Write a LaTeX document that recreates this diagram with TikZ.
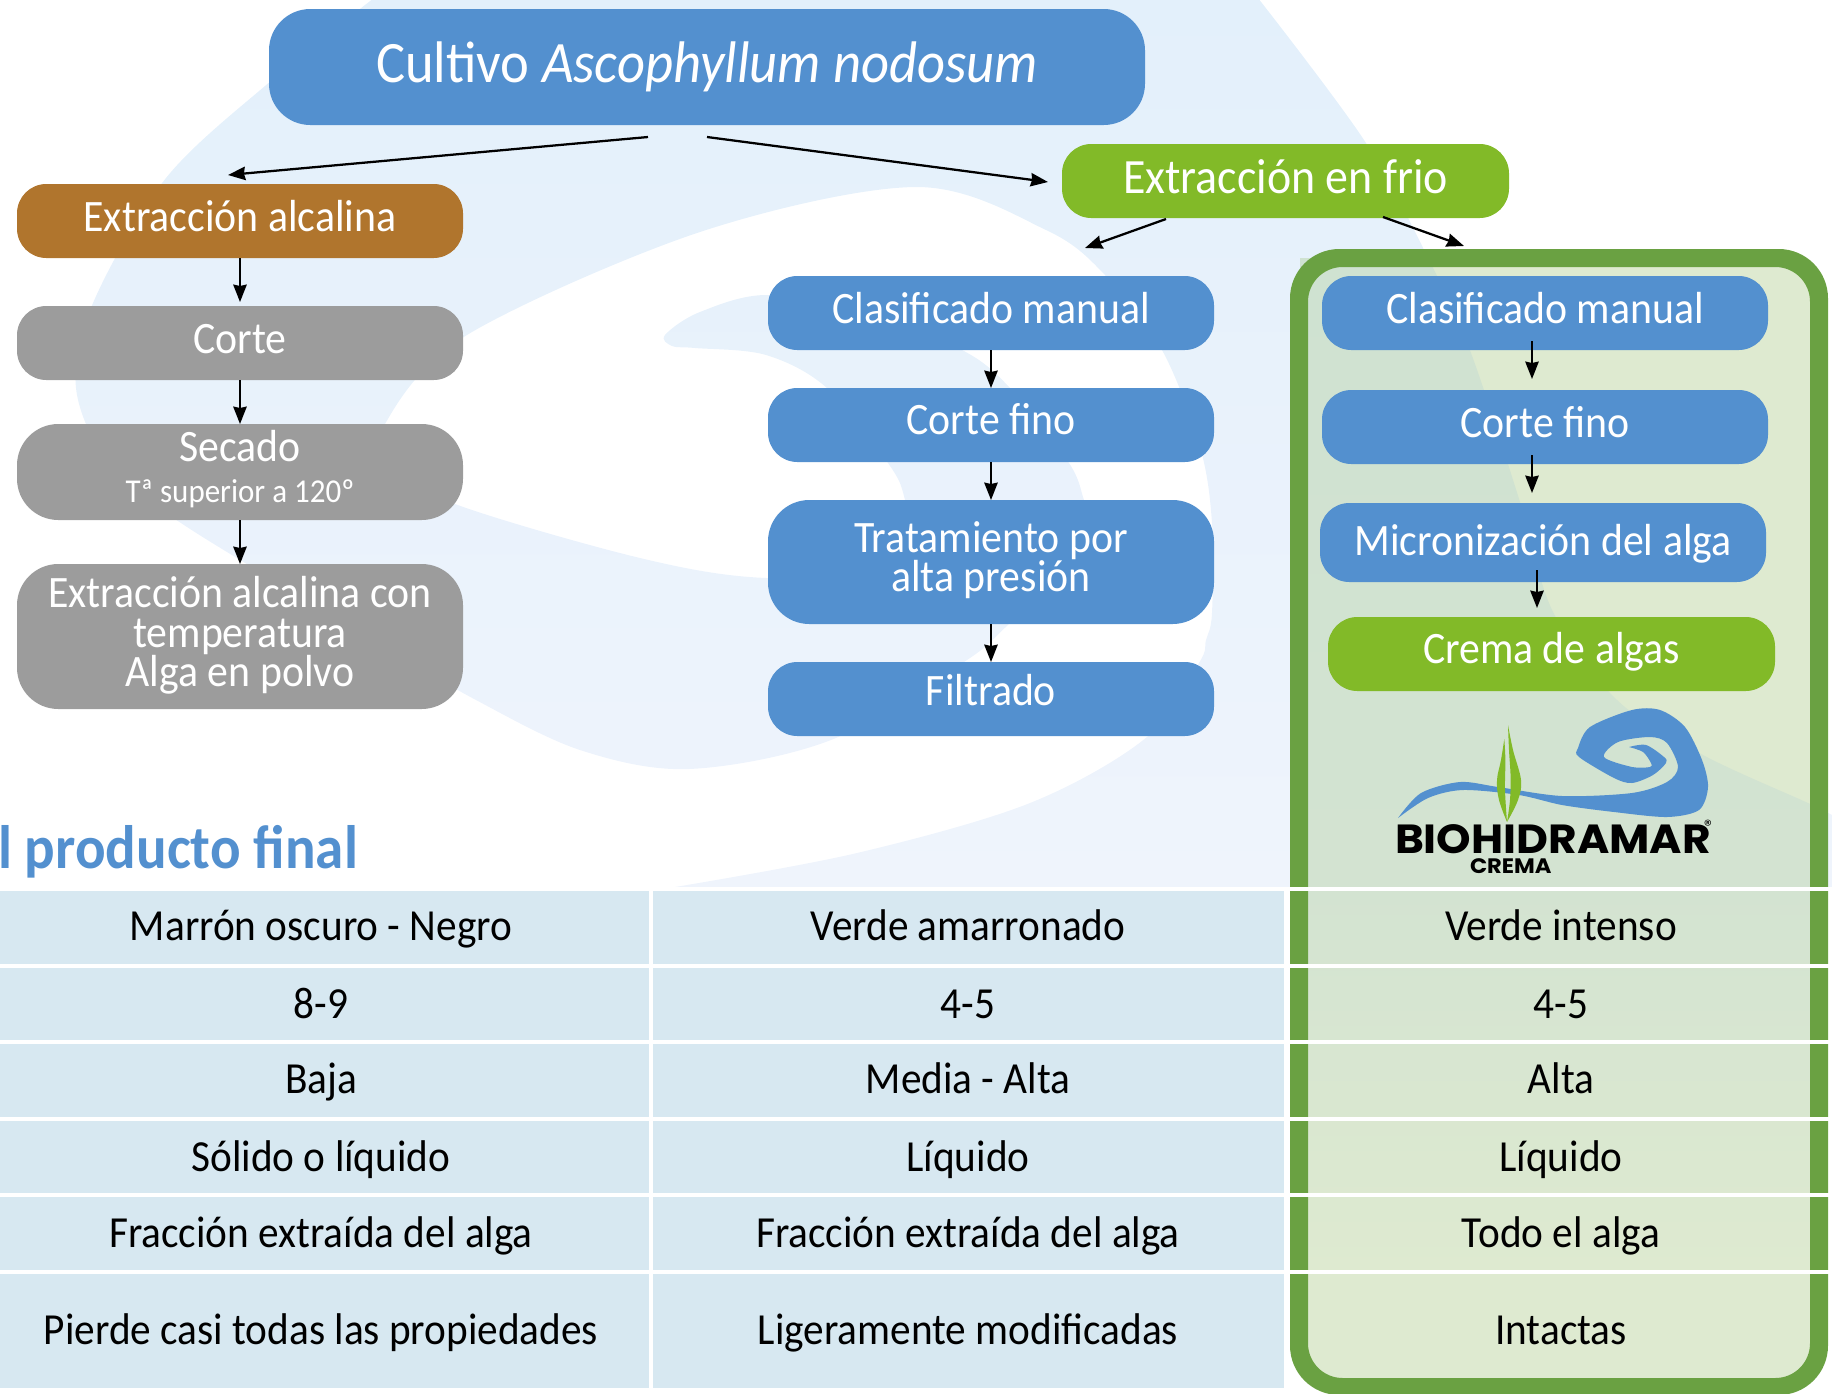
\documentclass[tikz,border=0pt]{standalone}
\usepackage{fontspec}
\setmainfont[FakeStretch=0.93]{Carlito}
\newfontfamily\logofont[FakeStretch=1.08]{Poppins}
\usetikzlibrary{arrows.meta}
\definecolor{bluebox}{HTML}{5390CF}
\definecolor{brownbox}{HTML}{B0752D}
\definecolor{greybox}{HTML}{9C9C9C}
\definecolor{greenbox}{HTML}{82BA28}
\definecolor{framegreen}{HTML}{6AA142}
\definecolor{palegreen}{HTML}{DEEAD0}
\definecolor{midgreen}{HTML}{CFE2D1}
\definecolor{lowgreen}{HTML}{D3E3D1}
\definecolor{cellblue}{HTML}{D7E8F1}
\definecolor{bgtop}{HTML}{E3F0FB}
\definecolor{bgbot}{HTML}{EFF4FC}
\newcommand\bgshape{plot[smooth,tension=0.55] coordinates {(374,-2)(272,80)(166,178)(93,303)(76,388)(110,465)(187,527)(400,655)(476,700)(580,750)(689,769)(831,740)(964,662)(1010,623)(1085,550)(1092,525)(1084,500)(1069,463)(1010,388)(962,350)(870,315)(768,295)(700,312)(665,335)(672,346)(695,348)(766,355)(827,388)(888,463)(905,500)(915,570)}
 -- plot[smooth,tension=0.55] coordinates {(915,570)(766,578)(640,558)(455,504)(392,465)(385,424)(467,335)(700,232)(916,187)(1046,230)(1105,275)(1162,350)(1200,447)(1212,523)(1212,613)(1206,640)(1199,663)(1147,737)(1030,803)(857,853)(675,887)}
 -- (1832,887) -- plot[smooth,tension=0.55] coordinates {(1832,815)(1808,803)(1703,755)(1617,700)(1553,612)(1520,502)(1471,353)(1433,268)(1366,143)(1258,-2)} -- cycle}
\tikzset{
 base/.style={inner sep=0pt,outer sep=0pt},
 dims/.style 2 args={minimum width=#1*0.75pt,minimum height=#2*0.75pt},
 tb/.style={text height=#1*1.5pt,text depth=0pt},
 flowbox/.style={base,rounded corners=22pt,text=white,font=\fontsize{33.7}{36}\selectfont},
 bigbox/.style={flowbox,rounded corners=31pt},
 boxline/.style={base,anchor=base,text=white,font=\fontsize{33.7}{36}\selectfont},
 cell/.style={base,anchor=base,text=black,font=\fontsize{33.3}{36}\selectfont},
 link/.style={line width=1.7pt,-{Stealth[inset=1pt,length=13pt,width=10pt]}},
}
\begin{document}
\begin{tikzpicture}[x=0.75pt,y=-0.75pt]
\useasboundingbox (0,0) rectangle (1832,1393);
\begin{scope}
\clip (0,0) rectangle (1832,1393);
% background swirl
\path[shade,top color=bgtop,bottom color=bgbot] \bgshape;
% green panel
\fill[palegreen,rounded corners=26pt] (1300,258) rectangle (1820,1385);
\begin{scope}
\clip \bgshape;
\shade[top color=midgreen,bottom color=lowgreen] (1300,258) rectangle (1820,887);
\end{scope}
% table cells
\foreach \y/\h in {891/72.6,967.6/72.6,1044.2/72.6,1120.8/72.6,1197.4/72.6,1274/114}{
 \fill[cellblue] (0,\y) rectangle (649,\y+\h);
 \fill[cellblue] (653,\y) rectangle (1284,\y+\h);
}
\shade[top color=lowgreen,bottom color=palegreen] (1300,887) rectangle (1820,1274);
\fill[framegreen,even odd rule,rounded corners=37pt] (1290,249) rectangle (1828,1395)
  [rounded corners=26pt] (1308,267) rectangle (1810,1378);
\foreach \y in {887,963.6,1040.2,1116.8,1193.4,1270}{
 \fill[white] (1284,\y) rectangle (1832,\y+4);
 \fill[white] (0,\y) rectangle (1284,\y+4);
}
\end{scope}
% title of the table
\node[base,anchor=base west,text=bluebox,font=\fontsize{46}{48}\selectfont\bfseries] (ptitle) at (-2,868) {l producto final};
% flow boxes
\node[flowbox,fill=bluebox,rounded corners=31pt,font=\fontsize{44}{48}\selectfont,dims={876}{116},tb=15.6] (title) at (707,67) {Cultivo \textit{Ascophyllum nodosum}};
\node[flowbox,fill=brownbox,dims={446}{74},tb=10] (alc) at (240,221) {Extracción alcalina};
\node[flowbox,fill=greybox,dims={446}{74},tb=10] (corte) at (240,343) {Corte};
\node[bigbox,fill=greybox,dims={446}{96}] (secado) at (240,472) {};
\node[boxline] (secadoa) at (240,461) {Secado};
\node[boxline,font=\fontsize{25}{28}\selectfont] (secadob) at (240,502) {Tª superior a 120º};
\node[bigbox,fill=greybox,dims={446}{145}] (temp) at (240,636.5) {};
\node[boxline] (tempa) at (240,607) {Extracción alcalina con};
\node[boxline] (tempb) at (240,647) {temperatura};
\node[boxline] (tempc) at (240,686) {Alga en polvo};
\node[flowbox,fill=greenbox,font=\fontsize{37}{40}\selectfont,dims={447}{74},tb=12] (frio) at (1285.5,181) {Extracción en frio};
\node[flowbox,fill=bluebox,dims={446}{74},tb=10] (m1) at (991,313) {Clasificado manual};
\node[flowbox,fill=bluebox,dims={446}{74},tb=9] (m2) at (991,425) {Corte fino};
\node[bigbox,fill=bluebox,dims={446}{124}] (m3) at (991,562) {};
\node[boxline] (m3a) at (991,552) {Tratamiento por};
\node[boxline] (m3b) at (991,591) {alta presión};
\node[flowbox,fill=bluebox,dims={446}{74},tb=6] (m4) at (991,699) {Filtrado};
\node[flowbox,fill=bluebox,dims={446}{74},tb=10] (r1) at (1545,313) {Clasificado manual};
\node[flowbox,fill=bluebox,dims={446}{74},tb=10] (r2) at (1545,427) {Corte fino};
\node[flowbox,fill=bluebox,dims={446}{79},tb=13] (r3) at (1543,542.5) {Micronización del alga};
\node[flowbox,fill=greenbox,dims={447}{74},tb=9] (r4) at (1551.5,654) {Crema de algas};
% connectors
\coordinate (t1) at (648,137); \coordinate (t1e) at (228,175);
\coordinate (t2) at (707,137); \coordinate (t2e) at (1048,182);
\coordinate (f1) at (1166,219); \coordinate (f1e) at (1085,248);
\coordinate (f2) at (1383,217); \coordinate (f2e) at (1464,246);
\coordinate (ra1) at (1532,341); \coordinate (ra2) at (1532,379);
\coordinate (rb1) at (1532,455); \coordinate (rb2) at (1532,493);
\coordinate (rc1) at (1537,570); \coordinate (rc2) at (1537,608);
\draw[link] (t1) -- (t1e);
\draw[link] (t2) -- (t2e);
\draw[link] (f1) -- (f1e);
\draw[link] (f2) -- (f2e);
\draw[link,shorten >=3pt] (alc) -- (corte);
\draw[link] (corte) -- (secado);
\draw[link] (secado) -- (temp);
\draw[link] (m1) -- (m2);
\draw[link] (m2) -- (m3);
\draw[link] (m3) -- (m4);
\draw[link] (ra1) -- (ra2);
\draw[link] (rb1) -- (rb2);
\draw[link] (rc1) -- (rc2);
% logo
\fill[bluebox] plot[smooth,tension=0.5] coordinates {(1398,818)(1421,793)(1460,782)(1498,787)(1562,796)(1632,793)(1667,782)(1678,767)(1667,743)(1650,737)(1618,742)(1604,757)(1632,767)(1650,767)(1651,763)(1643,752)(1629,747)}
 -- plot[smooth,tension=0.5] coordinates {(1629,747)(1646,745)(1664,757)(1666,763)(1653,775)(1632,783)(1614,778)(1579,757)(1578,748)(1590,727)(1632,710)(1660,710)(1685,727)(1702,760)(1708,787)(1699,810)(1667,817)(1614,812)(1562,805)(1519,795)(1463,790)(1428,798)(1398,818)} -- cycle;
\fill[greenbox] plot[smooth,tension=0.6] coordinates {(1504.3,739)(1501,760)(1497,780)(1499,800)(1507,822)} -- plot[smooth,tension=0.6] coordinates {(1507,822)(1505,790)(1505.4,760)(1504.3,739)} -- cycle;
\fill[greenbox] plot[smooth,tension=0.6] coordinates {(1508,725)(1513,750)(1521,780)(1518,800)(1507,822)} -- plot[smooth,tension=0.6] coordinates {(1507,822)(1510,800)(1510.6,777)(1509,750)(1508,725)} -- cycle;
\node[base,anchor=base west,font=\logofont\bfseries\fontsize{30.5}{32}\selectfont] (brand) at (1395,853) {BIOHIDRAMAR};
\node[base,anchor=center,font=\logofont\fontsize{11}{12}\selectfont] (reg) at (1708,825) {®};
\node[base,anchor=base west,font=\logofont\bfseries\fontsize{15.7}{16}\selectfont] (crema) at (1470,873) {CREMA};
% table texts
\node[cell] (a1) at (321,940) {Marrón oscuro - Negro};
\node[cell] (a2) at (321,1018) {8-9};
\node[cell] (a3) at (321,1093) {Baja};
\node[cell] (a4) at (321,1171) {Sólido o líquido};
\node[cell] (a5) at (321,1247) {Fracción extraída del alga};
\node[cell] (a6) at (321,1344) {Pierde casi todas las propiedades};
\node[cell] (b1) at (968,940) {Verde amarronado};
\node[cell] (b2) at (968,1018) {4-5};
\node[cell] (b3) at (968,1093) {Media - Alta};
\node[cell] (b4) at (968,1171) {Líquido};
\node[cell] (b5) at (968,1247) {Fracción extraída del alga};
\node[cell] (b6) at (968,1344) {Ligeramente modificadas};
\node[cell] (c1) at (1561,940) {Verde intenso};
\node[cell] (c2) at (1561,1018) {4-5};
\node[cell] (c3) at (1561,1093) {Alta};
\node[cell] (c4) at (1561,1171) {Líquido};
\node[cell] (c5) at (1561,1247) {Todo el alga};
\node[cell] (c6) at (1561,1344) {Intactas};
\end{tikzpicture}
\end{document}
